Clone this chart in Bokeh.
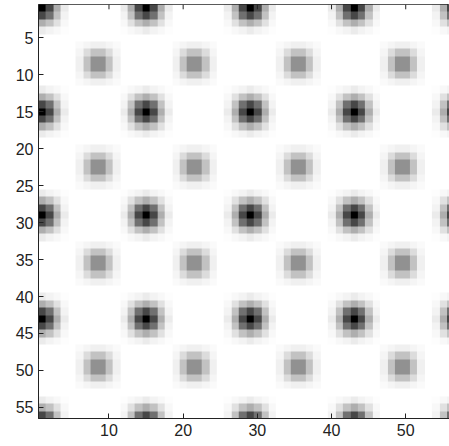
import numpy as np
from bokeh.plotting import figure
from bokeh.models import LinearColorMapper, FixedTicker, Range1d
from bokeh.palettes import Greys256
from bokeh.embed import file_html
from bokeh.resources import INLINE

# grid size
n_rows = 56
n_cols = 56

# dark peaks (cell centres, 1-based)
dark_cols = [1, 15, 29, 43, 57]
dark_rows = [1, 15, 29, 43, 57]

# light peaks (top-left cell of the 2x2 core, 1-based)
light_cols = [8, 21, 35, 49]
light_rows = [8, 22, 35, 49]

# darkness of a dark peak, offsets -3..3
dark_kernel = [
    [0.01, 0.03, 0.05, 0.08, 0.05, 0.03, 0.01],
    [0.03, 0.12, 0.24, 0.32, 0.24, 0.12, 0.03],
    [0.05, 0.24, 0.56, 0.72, 0.56, 0.24, 0.05],
    [0.08, 0.32, 0.72, 1.00, 0.72, 0.32, 0.08],
    [0.05, 0.24, 0.56, 0.72, 0.56, 0.24, 0.05],
    [0.03, 0.12, 0.24, 0.32, 0.24, 0.12, 0.03],
    [0.01, 0.03, 0.05, 0.08, 0.05, 0.03, 0.01],
]

# darkness of a light peak, offsets -2..3 from the core's top-left cell
light_kernel = [
    [0.02, 0.04, 0.06, 0.06, 0.04, 0.02],
    [0.04, 0.14, 0.24, 0.24, 0.14, 0.04],
    [0.06, 0.24, 0.43, 0.43, 0.24, 0.06],
    [0.06, 0.24, 0.43, 0.43, 0.24, 0.06],
    [0.04, 0.14, 0.24, 0.24, 0.14, 0.04],
    [0.02, 0.04, 0.06, 0.06, 0.04, 0.02],
]

x_ticks = [10, 20, 30, 40, 50]
y_ticks = [5, 10, 15, 20, 25, 30, 35, 40, 45, 50, 55]

# ---- assemble the cell values -------------------------------------------
dark = np.zeros((n_rows, n_cols))


def stamp(kernel, r0, c0, off):
    k = np.array(kernel)
    for i in range(k.shape[0]):
        for j in range(k.shape[1]):
            r = r0 - 1 + i - off
            c = c0 - 1 + j - off
            if 0 <= r < n_rows and 0 <= c < n_cols:
                dark[r, c] += k[i, j]


for r in dark_rows:
    for c in dark_cols:
        stamp(dark_kernel, r, c, 3)
for r in light_rows:
    for c in light_cols:
        stamp(light_kernel, r, c, 2)

dark = np.clip(dark, 0, 1)
img = 1.0 - dark  # 0 = black, 1 = white

mapper = LinearColorMapper(palette=Greys256, low=0, high=1)

p = figure(width=449, height=446,
           x_range=Range1d(0.5, 55.9), y_range=Range1d(56.5, 0.5),
           output_backend="svg", toolbar_location=None,
           min_border_left=38, min_border_right=0,
           min_border_top=4, min_border_bottom=28)

p.image(image=[img], x=0.5, y=0.5, dw=n_cols, dh=n_rows, color_mapper=mapper)

# inward tick marks along the top edge, at the x tick values
tick_len = 0.65
p.segment(x0=x_ticks, y0=[0.5] * len(x_ticks), x1=x_ticks,
          y1=[0.5 + tick_len] * len(x_ticks), line_color="#222222", line_width=1)

p.grid.visible = False
p.background_fill_color = "white"
p.border_fill_color = "white"
p.outline_line_color = "#222222"
p.outline_line_width = 1

font = "Liberation Sans"
for ax, ticks in ((p.xaxis[0], x_ticks), (p.yaxis[0], y_ticks)):
    ax.ticker = FixedTicker(ticks=ticks)
    ax.major_tick_in = 5
    ax.major_tick_out = 0
    ax.minor_tick_line_color = None
    ax.major_label_text_font = font
    ax.major_label_text_font_size = "16px"
    ax.major_label_text_color = "#222222"
    ax.axis_line_color = "#222222"
    ax.major_tick_line_color = "#222222"
    ax.major_label_standoff = 5

open("out.html", "w").write(file_html(p, INLINE))
